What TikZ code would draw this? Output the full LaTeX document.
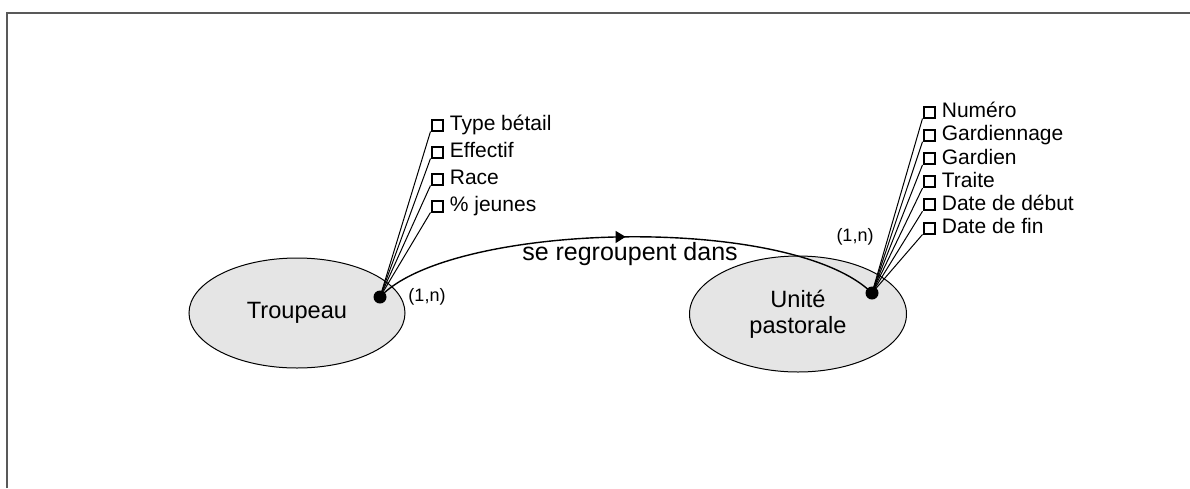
\documentclass[tikz,border=0pt]{standalone}
\usepackage{fontspec}
\setmainfont{Liberation Sans}
\usepackage{tikz}
\usetikzlibrary{shapes.geometric,arrows.meta,decorations.markings}

\tikzset{
  entity/.style={ellipse,draw,line width=0.5pt,fill=gray!20,inner sep=0pt,align=center,
    font=\fontsize{11.8}{13}\selectfont},
  attrbox/.style={draw,line width=1pt,minimum size=5.5pt,inner sep=0pt},
  attrtext/.style={anchor=base west,inner sep=0pt,font=\fontsize{10.5}{12}\selectfont},
  linkdot/.style={circle,fill,inner sep=0pt,minimum size=6.5pt},
  card/.style={font=\fontsize{9}{10}\selectfont},
  relation/.style={line width=0.7pt,postaction={decorate},
    decoration={markings,mark=at position 0.5 with {\arrow{Triangle[length=5pt,width=6pt]}}}}
}

\begin{document}
\begin{tikzpicture}[x=0.5pt,y=-0.5pt]
    \useasboundingbox (0,0) rectangle (1190,488);
    \draw[black!65,line width=1pt] (7,488) -- (7,13) -- (1190,13);

    % entities
    \node[entity,minimum width=108pt,minimum height=55pt] (troupeau) at (297,313) {Troupeau};
    \node[entity,minimum width=108.5pt,minimum height=58pt] (unite) at (798,314) {Unité\\pastorale};

    \node[linkdot] (tdot) at (380,297) {};
    \node[linkdot] (udot) at (872,293) {};

    % relation
    \draw[relation] (tdot.center) .. controls +(70,-75) and +(-82,-80) .. (udot.center);
    \node[font=\fontsize{12.5}{14}\selectfont] (rel) at (630,254) {se regroupent dans};
    \node[card] (tcard) at (427,297) {(1,n)};
    \node[card] (ucard) at (855,237) {(1,n)};

    % attributes
    \foreach \attr [count=\i, evaluate=\i as \y using 125+27*(\i-1)] in {Type bétail,Effectif,Race,\% jeunes} {
      \node[attrbox] (ta\i) at (437,\y) {};
      \node[attrtext] (tt\i) at ([xshift=3pt,yshift=-2.8pt]ta\i.east) {\attr};
      \draw[line width=0.5pt] (tdot.center) -- (ta\i.south west);
    }
    \foreach \attr [count=\i, evaluate=\i as \y using 112+23.2*(\i-1)] in {Numéro,Gardiennage,Gardien,Traite,Date de début,Date de fin} {
      \node[attrbox] (ua\i) at (929,\y) {};
      \node[attrtext] (ut\i) at ([xshift=3pt,yshift=-2.8pt]ua\i.east) {\attr};
      \draw[line width=0.5pt] (udot.center) -- (ua\i.south west);
    }
\end{tikzpicture}
\end{document}
